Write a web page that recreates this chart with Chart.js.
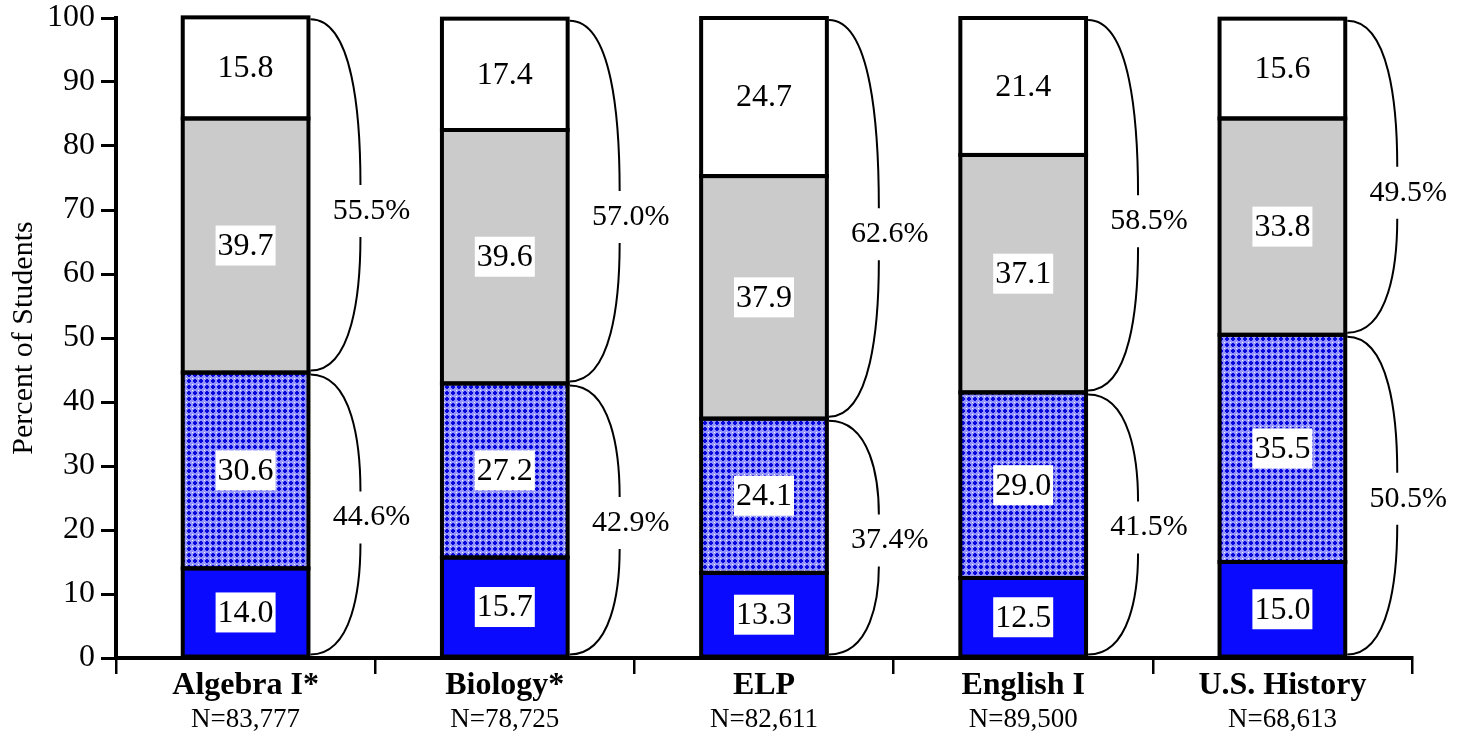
<!DOCTYPE html>
<html>
<head>
<meta charset="utf-8">
<script src="https://cdn.jsdelivr.net/npm/chart.js"></script>
<style>
  html, body { margin: 0; padding: 0; background: #fff; }
  #wrap { width: 1457px; height: 734px; }
</style>
</head>
<body>
<div id="wrap"><canvas id="c" width="1457" height="734"></canvas></div>
<script>
const subjects = ["Algebra I*", "Biology*", "ELP", "English I", "U.S. History"];
const counts = ["N=83,777", "N=78,725", "N=82,611", "N=89,500", "N=68,613"];
// stack levels, bottom to top
const level1 = [14.0, 15.7, 13.3, 12.5, 15.0];
const level2 = [30.6, 27.2, 24.1, 29.0, 35.5];
const level3 = [39.7, 39.6, 37.9, 37.1, 33.8];
const level4 = [15.8, 17.4, 24.7, 21.4, 15.6];
// bracket totals
const lowerPct = ["44.6%", "42.9%", "37.4%", "41.5%", "50.5%"];
const upperPct = ["55.5%", "57.0%", "62.6%", "58.5%", "49.5%"];
const yTicks = [0, 10, 20, 30, 40, 50, 60, 70, 80, 90, 100];

const SERIF = '"Liberation Serif", "Times New Roman", serif';

function makePattern() {
  const p = document.createElement("canvas");
  p.width = 6; p.height = 6;
  const g = p.getContext("2d");
  g.fillStyle = "#9494ff";
  g.fillRect(0, 0, 6, 6);
  g.fillStyle = "#0808dc";
  g.fillRect(2, 1, 2, 4);
  g.fillRect(1, 2, 4, 2);
  g.fillStyle = "#ffffff";
  g.fillRect(0, 0, 1, 1);
  return document.getElementById("c").getContext("2d").createPattern(p, "repeat");
}

const pattern = makePattern();

const overlay = {
  id: "overlay",
  afterDatasetsDraw(chart) {
    const ctx = chart.ctx;
    const metas = [0, 1, 2, 3].map((i) => chart.getDatasetMeta(i));
    ctx.save();
    // segment outlines
    ctx.strokeStyle = "#000";
    ctx.lineWidth = 4;
    metas.forEach((meta) => {
      meta.data.forEach((bar) => {
        ctx.strokeRect(bar.x - bar.width / 2, bar.y, bar.width, bar.base - bar.y);
      });
    });
    // value boxes
    ctx.font = "32px " + SERIF;
    ctx.textAlign = "center";
    ctx.textBaseline = "middle";
    metas.forEach((meta, di) => {
      meta.data.forEach((bar, i) => {
        const v = chart.data.datasets[di].data[i];
        const txt = v.toFixed(1);
        const cy = (bar.y + bar.base) / 2;
        const w = ctx.measureText(txt).width + 4;
        ctx.fillStyle = "#fff";
        ctx.fillRect(bar.x - w / 2, cy - 20, w, 40);
        ctx.fillStyle = "#000";
        ctx.fillText(txt, bar.x, cy + 1);
      });
    });
    // brackets
    ctx.strokeStyle = "#000";
    ctx.lineWidth = 2;
    ctx.font = "30px " + SERIF;
    function brace(xr, yTop, yBot, label, shift) {
      const w = 50, gap = 26;
      const mid = (yTop + yBot) / 2 + shift;
      ctx.beginPath();
      ctx.moveTo(xr, yTop);
      ctx.bezierCurveTo(xr + w * 0.85, yTop, xr + w, yTop + (mid - yTop) * 0.5, xr + w, mid - gap);
      ctx.moveTo(xr + w, mid + gap);
      ctx.bezierCurveTo(xr + w, yBot - (yBot - mid) * 0.5, xr + w * 0.85, yBot, xr, yBot);
      ctx.stroke();
      ctx.fillStyle = "#000";
      ctx.fillText(label, xr + 61, mid);
    }
    metas[0].data.forEach((b0, i) => {
      const xr = b0.x + b0.width / 2 + 2;
      const yBase = b0.base;
      const ySplit = metas[1].data[i].y;
      const yTop = metas[3].data[i].y;
      brace(xr, ySplit + 2, yBase - 2, lowerPct[i], 3);
      brace(xr, yTop + 2, ySplit - 2, upperPct[i], 16);
    });
    // category labels
    const xs = chart.scales.x;
    subjects.forEach((s, i) => {
      const x = xs.getPixelForValue(i);
      ctx.font = "bold 32px " + SERIF;
      ctx.fillText(s, x, 686);
      ctx.font = "27px " + SERIF;
      ctx.fillText(counts[i], x, 720);
    });
    ctx.restore();
  },
};

new Chart(document.getElementById("c"), {
  type: "bar",
  data: {
    labels: subjects,
    datasets: [
      { data: level1, backgroundColor: "#0a0aff", borderWidth: 0 },
      { data: level2, backgroundColor: pattern, borderWidth: 0 },
      { data: level3, backgroundColor: "#cbcbcb", borderWidth: 0 },
      { data: level4, backgroundColor: "#ffffff", borderWidth: 0 },
    ],
  },
  options: {
    responsive: false,
    animation: false,
    layout: { padding: { top: 18, right: 45, left: 0, bottom: 0 } },
    datasets: { bar: { barPercentage: 0.485, categoryPercentage: 1.0 } },
    plugins: { legend: { display: false }, tooltip: { enabled: false } },
    scales: {
      x: {
        stacked: true,
        afterFit: (s) => { s.height = 76; s.paddingLeft = 0; s.paddingRight = 0; },
        grid: { offset: true, drawOnChartArea: false, color: "#000", lineWidth: 2.5, tickLength: 16 },
        border: { color: "#000", width: 4 },
        ticks: { display: false },
      },
      y: {
        stacked: true,
        min: 0,
        max: 100,
        afterFit: (s) => { s.width = 116; s.paddingTop = 0; s.paddingBottom = 0; },
        afterBuildTicks: (s) => { s.ticks = yTicks.map((v) => ({ value: v })); },
        grid: { drawOnChartArea: false, color: "#000", lineWidth: 3, tickLength: 15 },
        border: { color: "#000", width: 4 },
        ticks: { color: "#000", padding: 6, font: { family: SERIF, size: 32 } },
        title: { display: true, text: "Percent of Students", color: "#000", padding: { top: 6, bottom: 0 }, font: { family: SERIF, size: 30 } },
      },
    },
  },
  plugins: [overlay],
});
</script>
</body>
</html>
